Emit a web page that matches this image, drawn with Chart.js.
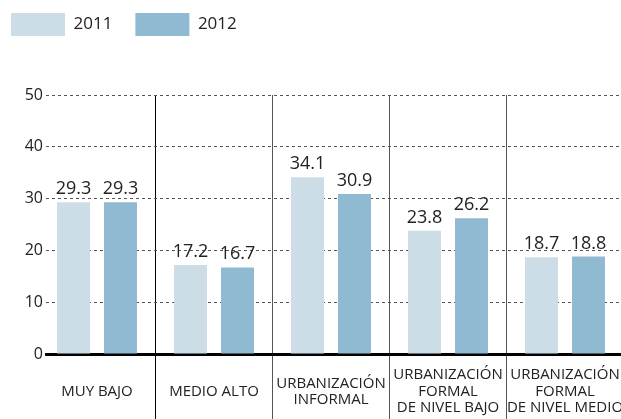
<!DOCTYPE html>
<html lang="es">
<head>
  <meta charset="UTF-8">
  <title>Gráfico por tipo de zona</title>
  <script src="https://cdn.jsdelivr.net/npm/chart.js"></script>
  <style>
    body { margin: 0; background: #fff; }
    canvas { display: block; }
  </style>
</head>
<body>
<canvas id="chart" width="621" height="419"></canvas>
<script>
  // datos
  const categories = [
    ['MUY BAJO'],
    ['MEDIO ALTO'],
    ['URBANIZACIÓN', 'INFORMAL'],
    ['URBANIZACIÓN', 'FORMAL', 'DE NIVEL BAJO'],
    ['URBANIZACIÓN', 'FORMAL', 'DE NIVEL MEDIO']
  ];
  const seriesNames = ['2011', '2012'];
  const values2011 = [29.3, 17.2, 34.1, 23.8, 18.7];
  const values2012 = [29.3, 16.7, 30.9, 26.2, 18.8];
  const yTicks = [0, 10, 20, 30, 40, 50];

  const FONT = '"Open Sans", "Noto Sans", sans-serif';
  const TEXT = '#222';

  // etiquetas con el valor encima de cada barra
  const valueLabels = {
    id: 'valueLabels',
    afterDatasetsDraw(chart) {
      const ctx = chart.ctx;
      ctx.save();
      ctx.font = '18px ' + FONT;
      ctx.fillStyle = TEXT;
      ctx.textAlign = 'center';
      ctx.textBaseline = 'alphabetic';
      chart.data.datasets.forEach((ds, i) => {
        chart.getDatasetMeta(i).data.forEach((bar, j) => {
          ctx.fillText(ds.data[j].y.toFixed(1), bar.x, bar.y - 8);
        });
      });
      ctx.restore();
    }
  };

  // leyenda arriba a la izquierda, con el área del gráfico empezando más abajo
  const legendPlace = {
    id: 'legendPlace',
    beforeLayout(chart) {
      const legend = chart.legend;
      if (legend && !legend._patched) {
        const fit = legend.fit;
        legend.fit = function () {
          fit.call(this);
          this.height = 95;
        };
        legend._patched = true;
      }
    },
    afterLayout(chart) {
      chart.legend.top -= 10;
      chart.legend.left -= 12;
    }
  };

  const toPoints = arr => arr.map((v, i) => ({ x: i, y: v }));

  const ctx = document.getElementById('chart').getContext('2d');
  new Chart(ctx, {
    type: 'bar',
    data: {
      datasets: [
        { label: seriesNames[0], data: toPoints(values2011), backgroundColor: '#ccdde7' },
        { label: seriesNames[1], data: toPoints(values2012), backgroundColor: '#8fbad2' }
      ]
    },
    options: {
      responsive: false,
      animation: false,
      devicePixelRatio: 1,
      categoryPercentage: 0.803,
      barPercentage: 0.702,
      layout: { padding: 0 },
      plugins: {
        tooltip: { enabled: false },
        legend: {
          position: 'top',
          align: 'start',
          labels: {
            boxWidth: 54,
            boxHeight: 23,
            padding: 23,
            color: TEXT,
            font: { family: FONT, size: 17 }
          }
        }
      },
      scales: {
        x: {
          type: 'linear',
          offset: false,
          min: -0.4359,
          max: 4.4786,
          afterBuildTicks: scale => {
            scale.ticks = categories.map((c, i) => ({ value: i }));
          },
          afterFit: scale => {
            scale.height = 65;
            scale.paddingLeft = 0;
            scale.paddingRight = 0;
          },
          ticks: {
            autoSkip: false,
            maxRotation: 0,
            minRotation: 0,
            padding: -44,
            crossAlign: 'center',
            color: TEXT,
            font: { family: FONT, size: 15, lineHeight: 1.1 },
            callback: value => categories[value]
          },
          grid: {
            offset: true,
            drawTicks: true,
            tickLength: 65,
            lineWidth: 1,
            color: c => (c.index === 1 ? '#000' : '#555'),
            tickColor: c => (c.index === 1 ? '#000' : '#555')
          },
          border: { display: true, color: '#000', width: 3 }
        },
        y: {
          min: 0,
          max: 50,
          afterBuildTicks: scale => {
            scale.ticks = yTicks.map(v => ({ value: v }));
          },
          afterFit: scale => {
            scale.width = 46;
          },
          ticks: {
            padding: 3,
            color: TEXT,
            font: { family: FONT, size: 16 }
          },
          grid: {
            drawTicks: false,
            color: '#555',
            lineWidth: 1
          },
          border: { display: false, dash: [3, 3] }
        }
      }
    },
    plugins: [valueLabels, legendPlace]
  });
</script>
</body>
</html>
